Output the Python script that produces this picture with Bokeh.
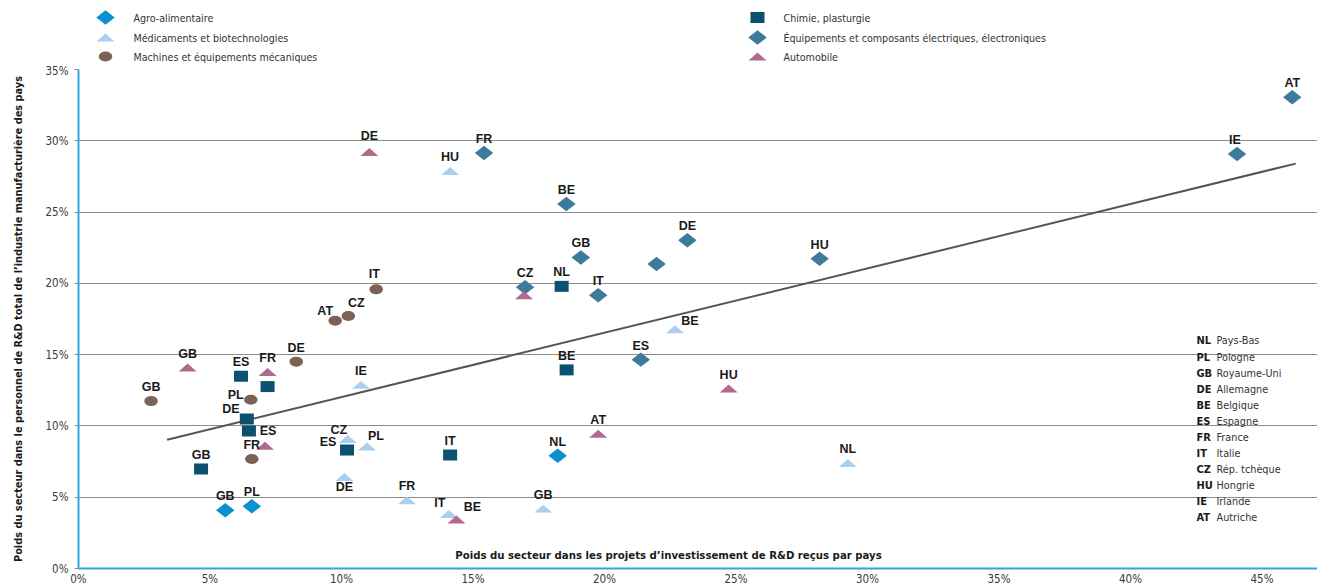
from bokeh.plotting import figure
from bokeh.layouts import column
from bokeh.models import FixedTicker, PrintfTickFormatter, Range1d
from bokeh.core.properties import value
from bokeh.embed import file_html
from bokeh.resources import INLINE

# x: weight of the sector in R&D investment projects received (%)
# y: weight of the sector in the country's manufacturing R&D staff (%)
agro_labels = ["GB", "PL", "NL"]
agro_x = [5.58, 6.59, 18.22]
agro_y = [4.08, 4.36, 7.91]

medic_labels = ["HU", "IE", "BE", "CZ", "PL", "DE", "FR", "IT", "GB", "NL"]
medic_x = [14.13, 10.74, 22.68, 10.24, 10.97, 10.11, 12.49, 14.08, 17.67, 29.25]
medic_y = [27.88, 12.88, 16.78, 9.08, 8.56, 6.42, 4.78, 3.83, 4.20, 7.40]

mach_labels = ["GB", "AT", "CZ", "IT", "DE", "PL", "FR"]
mach_x = [2.76, 9.76, 10.26, 11.32, 8.28, 6.55, 6.59]
mach_y = [11.74, 17.38, 17.71, 19.58, 14.51, 11.83, 7.68]

chem_labels = ["NL", "BE", "IT", "ES", "ES", "", "DE", "", "GB"]
chem_x = [18.37, 18.56, 14.13, 10.21, 6.18, 7.19, 6.40, 6.48, 4.66]
chem_y = [19.79, 13.93, 7.96, 8.31, 13.49, 12.76, 10.48, 9.64, 6.98]

elec_labels = ["AT", "IE", "FR", "BE", "DE", "", "GB", "HU", "CZ", "IT", "ES"]
elec_x = [46.15, 44.05, 15.42, 18.55, 23.15, 21.98, 19.10, 28.18, 16.98, 19.76, 21.38]
elec_y = [33.06, 29.07, 29.14, 25.57, 23.03, 21.35, 21.82, 21.72, 19.72, 19.16, 14.65]

auto_labels = ["DE", "GB", "FR", "", "ES", "HU", "AT", "BE"]
auto_x = [11.06, 4.15, 7.19, 16.94, 7.09, 24.72, 19.76, 14.37]
auto_y = [29.21, 14.09, 13.79, 19.16, 8.61, 12.62, 9.45, 3.43]

trend_x = [3.37, 46.28]
trend_y = [9.03, 28.40]

x_ticks = [0, 5, 10, 15, 20, 25, 30, 35, 40, 45]
y_ticks = [0, 5, 10, 15, 20, 25, 30, 35]

country_codes = ["NL", "PL", "GB", "DE", "BE", "ES", "FR", "IT", "CZ", "HU", "IE", "AT"]
country_names = ["Pays-Bas", "Pologne", "Royaume-Uni", "Allemagne", "Belgique", "Espagne",
                 "France", "Italie", "Rép. tchèque", "Hongrie", "Irlande", "Autriche"]

x_title = "Poids du secteur dans les projets d\u2019investissement de R&D reçus par pays"
y_title = "Poids du secteur dans le personnel de R&D total de l\u2019industrie manufacturière des pays"

# series: (legend name, labels, x, y, marker shape, colour)
SECTORS = [
    ("Agro-alimentaire", agro_labels, agro_x, agro_y, "diamond", "#0a91cf"),
    ("Médicaments et biotechnologies", medic_labels, medic_x, medic_y, "triangle", "#abcfee"),
    ("Machines et équipements mécaniques", mach_labels, mach_x, mach_y, "ellipse", "#7b6156"),
    ("Chimie, plasturgie", chem_labels, chem_x, chem_y, "square", "#0c5170"),
    ("Équipements et composants électriques, électroniques", elec_labels, elec_x, elec_y, "diamond", "#3e7b9a"),
    ("Automobile", auto_labels, auto_x, auto_y, "triangle", "#b3688e"),
]

# ---- layout -------------------------------------------------------------
W, H = 1317, 588
LEGEND_H = 63            # strip holding the sector legend
TOP, LEFT, BOTTOM = 6, 78, 19
MAIN_H = H - LEGEND_H
FRAME_W = W - LEFT
FRAME_H = MAIN_H - TOP - BOTTOM       # 500 px for 0-35 %
FRAME_BOTTOM = LEGEND_H + TOP + FRAME_H
PX_PER_X = 26.3
PX_PER_Y = FRAME_H / 35
X_END = FRAME_W / PX_PER_X

NARROW = "DejaVu Sans Condensed, Liberation Sans Narrow, sans-serif"
BOLD = "Liberation Sans, Arial, sans-serif"
AXIS_BLUE = "#2aa9df"
GRID = "#8c8c8c"

# marker sizes in screen pixels
DIAMOND = (18.5, 14.5)
TRIANGLE = (18, 8)
SQUARE = (14, 11)
ELLIPSE = (13.5, 10)


def sx(px):
    """page x pixel -> data x of the main plot"""
    return (px - LEFT) / PX_PER_X


def sy(py):
    """page y pixel -> data y of the main plot"""
    return (FRAME_BOTTOM - py) / PX_PER_Y


def draw_markers(fig, xs, ys, shape, color, kx, ky):
    """kx, ky: screen pixels per data unit along x and y (ky < 0 for a flipped axis)"""
    if shape == "square":
        fig.rect(xs, ys, width=SQUARE[0], height=SQUARE[1], width_units="screen",
                 height_units="screen", fill_color=color, line_color=None)
    elif shape == "ellipse":
        fig.ellipse(xs, ys, width=ELLIPSE[0], height=ELLIPSE[1], width_units="screen",
                    height_units="screen", fill_color=color, line_color=None)
    else:
        pxs, pys = [], []
        for x, y in zip(xs, ys):
            if shape == "diamond":
                hw, hh = DIAMOND[0] / 2 / kx, DIAMOND[1] / 2 / ky
                pxs.append([x - hw, x, x + hw, x])
                pys.append([y, y + hh, y, y - hh])
            else:
                hw, hh = TRIANGLE[0] / 2 / kx, TRIANGLE[1] / 2 / ky
                pxs.append([x - hw, x + hw, x])
                pys.append([y - hh, y - hh, y + hh])
        fig.patches(pxs, pys, fill_color=color, line_color=None)


# ---- legend strip ------------------------------------------------------
# the column aligns this strip's frame with the main frame (x from LEFT to W),
# so page pixels are used directly as coordinates, y pointing down
leg = figure(width=W, height=LEGEND_H, x_range=Range1d(LEFT, W), y_range=Range1d(LEGEND_H, 0),
             output_backend="svg", toolbar_location=None,
             min_border_left=LEFT, min_border_right=0, min_border_top=0, min_border_bottom=0)
leg.axis.visible = False
leg.grid.visible = False
leg.outline_line_color = None
leg.background_fill_color = "white"
leg.border_fill_color = "white"

LEG_COLS = [(105, 133), (757, 783)]
LEG_ROWS = [17, 37, 56]
leg_tx, leg_ty, leg_tt = [], [], []
for k, (name, labels, xs, ys, shape, color) in enumerate(SECTORS):
    mx, tx = LEG_COLS[k // 3]
    ry = LEG_ROWS[k % 3]
    draw_markers(leg, [mx], [ry], shape, color, 1, -1)
    leg_tx.append(tx)
    leg_ty.append(ry)
    leg_tt.append(name)
leg.text(leg_tx, leg_ty, text=leg_tt, text_font=value(NARROW), text_font_size="10.6px",
         text_color="#333333", text_align="left", text_baseline="middle")

# ---- main scatter ---------------------------------------------------------
p = figure(width=W, height=MAIN_H, x_range=Range1d(0, X_END), y_range=Range1d(0, 35),
           output_backend="svg", toolbar_location=None,
           min_border_left=LEFT, min_border_right=0, min_border_top=TOP,
           min_border_bottom=BOTTOM)
p.outline_line_color = None
p.background_fill_color = "white"
p.border_fill_color = "white"

p.xaxis.ticker = FixedTicker(ticks=x_ticks)
p.yaxis.ticker = FixedTicker(ticks=y_ticks)
p.xaxis.formatter = PrintfTickFormatter(format="%d%%")
p.yaxis.formatter = PrintfTickFormatter(format="%d%%")
for ax in (p.xaxis, p.yaxis):
    ax.axis_line_color = AXIS_BLUE
    ax.axis_line_width = 2
    ax.minor_tick_line_color = None
    ax.major_tick_in = 0
    ax.major_label_text_font = NARROW
    ax.major_label_text_font_size = "11.5px"
    ax.major_label_text_color = "#3a3a3a"
p.xaxis.major_tick_out = 0
p.xaxis.major_label_standoff = 3
p.yaxis.major_tick_out = 4
p.yaxis.major_tick_line_color = GRID
p.yaxis.major_label_standoff = 6
p.yaxis.axis_label = y_title
p.yaxis.axis_label_text_font = NARROW
p.yaxis.axis_label_text_font_style = "bold"
p.yaxis.axis_label_text_font_size = "10.9px"
p.yaxis.axis_label_text_color = "#1a1a1a"
p.yaxis.axis_label_standoff = 18

p.xgrid.visible = False
p.ygrid.ticker = FixedTicker(ticks=y_ticks[1:])
p.ygrid.grid_line_color = GRID
p.ygrid.grid_line_width = 1

# trend line
p.line(trend_x, trend_y, line_color="#555555", line_width=2)

for name, labels, xs, ys, shape, color in SECTORS:
    draw_markers(p, xs, ys, shape, color, PX_PER_X, PX_PER_Y)

# point labels: by default above the marker; some are nudged (dx right, dy up, in px)
LABEL_RISE = 14
NUDGE = {
    ("Machines et équipements mécaniques", "AT"): (-10, 10),
    ("Machines et équipements mécaniques", "CZ"): (8, 13),
    ("Machines et équipements mécaniques", "PL"): (-15, 5),
    ("Machines et équipements mécaniques", "IT"): (-2, 15),
    ("Chimie, plasturgie", "DE"): (-16, 10),
    ("Médicaments et biotechnologies", "CZ"): (-9, 9),
    ("Médicaments et biotechnologies", "PL"): (9, 10),
    ("Médicaments et biotechnologies", "DE"): (0, -10),
    ("Médicaments et biotechnologies", "IT"): (-9, 11),
    ("Médicaments et biotechnologies", "BE"): (15, 8),
    ("Automobile", "BE"): (16, 13),
    ("Automobile", "ES"): (3, 15),
    ("Automobile", "DE"): (0, 16),
    ("Équipements et composants électriques, électroniques", "IE"): (-2, 14),
}
# the second "ES" of the chemistry series sits to the left of its marker
NUDGE_CHEM_ES_LOW = (-19, 8)

lx, ly, lt = [], [], []
for name, labels, xs, ys, shape, color in SECTORS:
    for i, lab in enumerate(labels):
        if not lab:
            continue
        dx, dy = NUDGE.get((name, lab), (0, LABEL_RISE))
        if name == "Chimie, plasturgie" and lab == "ES" and i == 3:
            dx, dy = NUDGE_CHEM_ES_LOW
        lx.append(xs[i] + dx / PX_PER_X)
        ly.append(ys[i] + dy / PX_PER_Y)
        lt.append(lab)
p.text(lx, ly, text=lt, text_font=value(BOLD), text_font_style="bold",
       text_font_size="12.5px", text_color="#1a1a1a", text_align="center",
       text_baseline="middle")

# x-axis title, drawn inside the frame just above the axis
p.text([sx(668)], [sy(556)], text=[x_title], text_font=value(NARROW),
       text_font_style="bold", text_font_size="11.3px", text_color="#1a1a1a",
       text_align="center", text_baseline="middle")

# country code key on the right
KEY_CODE_X, KEY_NAME_X, KEY_TOP, KEY_STEP = 1196, 1216, 341, 16.1
key_y = [sy(KEY_TOP + i * KEY_STEP) for i in range(len(country_codes))]
p.text([sx(KEY_CODE_X)] * len(country_codes), key_y, text=country_codes,
       text_font=value(NARROW), text_font_style="bold", text_font_size="11px",
       text_color="#1a1a1a", text_align="left", text_baseline="middle")
p.text([sx(KEY_NAME_X)] * len(country_names), key_y, text=country_names,
       text_font=value(NARROW), text_font_size="10.8px",
       text_color="#333333", text_align="left", text_baseline="middle")

page = column(leg, p, spacing=0)
open("out.html", "w").write(file_html(page, INLINE))
